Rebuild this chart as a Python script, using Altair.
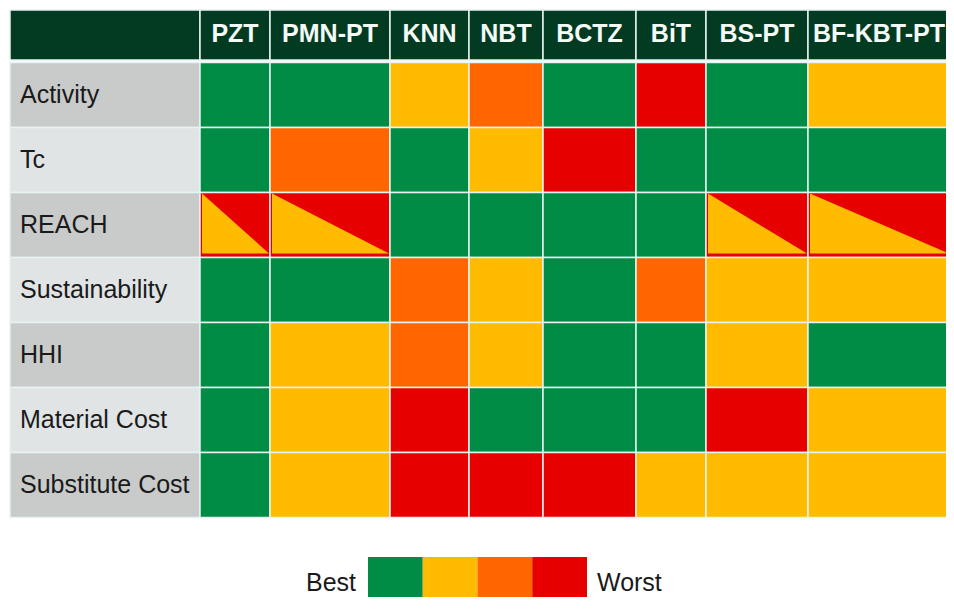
import altair as alt
import numpy as np
import pandas as pd

# ---------------- data ----------------
materials = ["PZT", "PMN-PT", "KNN", "NBT", "BCTZ", "BiT", "BS-PT", "BF-KBT-PT"]
criteria = ["Activity", "Tc", "REACH", "Sustainability", "HHI", "Material Cost", "Substitute Cost"]
# G = best (green), Y = yellow, O = orange, R = worst (red); YR = split yellow / red
activity = ["G", "G", "Y", "O", "G", "R", "G", "Y"]
tc = ["G", "O", "G", "Y", "R", "G", "G", "G"]
reach = ["YR", "YR", "G", "G", "G", "G", "YR", "YR"]
sustainability = ["G", "G", "O", "Y", "G", "O", "Y", "Y"]
hhi = ["G", "Y", "O", "Y", "G", "G", "Y", "G"]
material_cost = ["G", "Y", "R", "G", "G", "G", "R", "Y"]
substitute_cost = ["G", "Y", "R", "R", "R", "Y", "Y", "Y"]
legend_levels = ["G", "Y", "O", "R"]
legend_labels = ["Best", "Worst"]

ratings = [activity, tc, reach, sustainability, hhi, material_cost, substitute_cost]

# ---------------- layout / style ----------------
W, H = 938, 589
TABLE_X = 2
LABEL_W = 190
COL_W = [70, 120, 79, 74, 93, 70, 102, 142]
HEADER_Y, HEADER_H = 2, 50
BODY_Y, ROW_H = 54.5, 65
LEG_X, LEG_W, LEG_Y, LEG_H = 360, 54.75, 549, 50
FONT = "Liberation Sans"

level_domain = ["G", "Y", "O", "R"]
level_colors = ["#008c44", "#ffbb00", "#ff6600", "#e60000"]
HEADER_BG = "#023b22"
GRID = "#e6f3f2"

x_edges = np.concatenate([[TABLE_X, TABLE_X + LABEL_W], TABLE_X + LABEL_W + np.cumsum(COL_W)])

xs = alt.Scale(domain=[0, W], nice=False, zero=False)
ys = alt.Scale(domain=[0, H], nice=False, zero=False, reverse=True)
colscale = alt.Scale(domain=level_domain, range=level_colors)

# header
header_df = pd.DataFrame({
    "name": [""] + materials,
    "x": x_edges[:-1], "x2": x_edges[1:],
    "y": HEADER_Y, "y2": HEADER_Y + HEADER_H,
})
header_df["xc"] = (header_df["x"] + header_df["x2"]) / 2
header_df["yc"] = (header_df["y"] + header_df["y2"]) / 2 - 1

# row labels
label_rows = []
for i, c in enumerate(criteria):
    top = BODY_Y + i * ROW_H
    label_rows.append({"name": c, "x": x_edges[0], "x2": x_edges[1], "y": top, "y2": top + ROW_H,
                       "shade": "dark" if i % 2 == 0 else "light",
                       "tx": x_edges[0] + 10, "yc": top + ROW_H / 2})
label_df = pd.DataFrame(label_rows)

# body cells
cells, tris = [], []
for i, c in enumerate(criteria):
    top = BODY_Y + i * ROW_H
    bot = top + ROW_H
    for j, m in enumerate(materials):
        lv = ratings[i][j]
        x0, x1 = x_edges[j + 1], x_edges[j + 2]
        cells.append({"crit": c, "mat": m, "x": x0, "x2": x1, "y": top, "y2": bot,
                      "level": "R" if lv == "YR" else lv})
        if lv == "YR":
            tris.append({"key": m, "x": x0 + 2, "y": top + 1, "y2": bot - 4})
            tris.append({"key": m, "x": x1 - 1, "y": bot - 4, "y2": bot - 4})
cell_df = pd.DataFrame(cells)
tri_df = pd.DataFrame(tris)

# legend
leg_df = pd.DataFrame({
    "level": legend_levels,
    "x": [LEG_X + k * LEG_W for k in range(len(legend_levels))],
    "x2": [LEG_X + (k + 1) * LEG_W for k in range(len(legend_levels))],
    "y": LEG_Y, "y2": LEG_Y + LEG_H,
})
leg_text_df = pd.DataFrame({
    "text": legend_labels,
    "x": [LEG_X - 12, LEG_X + len(legend_levels) * LEG_W + 10],
    "y": [575, 575],
    "align": ["right", "left"],
})

# ---------------- marks ----------------
header_rect = alt.Chart(header_df).mark_rect(
    fill=HEADER_BG, stroke=GRID, strokeWidth=1.5, clip=True
).encode(
    x=alt.X("x:Q", scale=xs, axis=None), x2="x2",
    y=alt.Y("y:Q", scale=ys, axis=None), y2="y2",
)

header_text = alt.Chart(header_df).mark_text(
    font=FONT, fontSize=25, fontWeight="bold", color="#f4faf6", baseline="middle", align="center", clip=True
).encode(
    x=alt.X("xc:Q", scale=xs, axis=None),
    y=alt.Y("yc:Q", scale=ys, axis=None),
    text="name:N",
)

label_rect = alt.Chart(label_df).mark_rect(stroke=GRID, strokeWidth=1.5).encode(
    x=alt.X("x:Q", scale=xs, axis=None), x2="x2",
    y=alt.Y("y:Q", scale=ys, axis=None), y2="y2",
    color=alt.Color("shade:N", scale=alt.Scale(domain=["dark", "light"], range=["#c9cbcb", "#e1e4e5"]), legend=None),
)

label_text = alt.Chart(label_df).mark_text(
    font=FONT, fontSize=25, color="#1a1a1a", align="left", baseline="middle"
).encode(
    x=alt.X("tx:Q", scale=xs, axis=None),
    y=alt.Y("yc:Q", scale=ys, axis=None),
    text="name:N",
)

cell_rect = alt.Chart(cell_df).mark_rect(stroke=GRID, strokeWidth=1.5, clip=True).encode(
    x=alt.X("x:Q", scale=xs, axis=None), x2="x2",
    y=alt.Y("y:Q", scale=ys, axis=None), y2="y2",
    fill=alt.Fill("level:N", scale=colscale, legend=None),
)

tri_area = alt.Chart(tri_df).mark_area(color=level_colors[1], clip=True, interpolate="linear").encode(
    x=alt.X("x:Q", scale=xs, axis=None),
    y=alt.Y("y:Q", scale=ys, axis=None), y2="y2",
    detail="key:N",
)

leg_rect = alt.Chart(leg_df).mark_rect(clip=True).encode(
    x=alt.X("x:Q", scale=xs, axis=None), x2="x2",
    y=alt.Y("y:Q", scale=ys, axis=None), y2="y2",
    fill=alt.Fill("level:N", scale=colscale, legend=None),
)

leg_text_r = alt.Chart(leg_text_df[leg_text_df["align"] == "right"]).mark_text(
    font=FONT, fontSize=25, color="#1a1a1a", align="right", baseline="middle"
).encode(x=alt.X("x:Q", scale=xs, axis=None), y=alt.Y("y:Q", scale=ys, axis=None), text="text:N")

leg_text_l = alt.Chart(leg_text_df[leg_text_df["align"] == "left"]).mark_text(
    font=FONT, fontSize=25, color="#1a1a1a", align="left", baseline="middle"
).encode(x=alt.X("x:Q", scale=xs, axis=None), y=alt.Y("y:Q", scale=ys, axis=None), text="text:N")

chart = alt.layer(
    header_rect, header_text, label_rect, label_text, cell_rect, tri_area, leg_rect, leg_text_r, leg_text_l
).properties(
    width=W, height=H, padding=0, autosize=alt.AutoSizeParams(type="none"), background="white"
).configure_view(stroke=None)

chart.save("out.html", embed_options={"renderer": "svg", "actions": False})
